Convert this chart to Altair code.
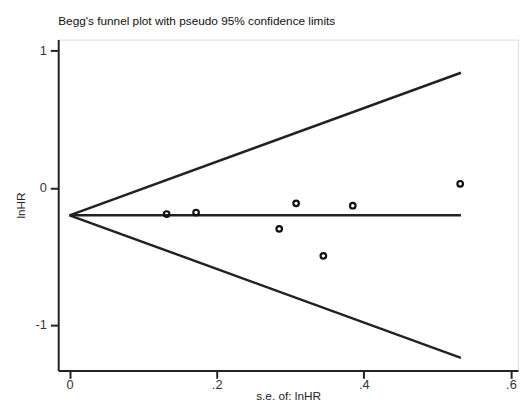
import altair as alt
import pandas as pd

# Study points
se = [0.132, 0.172, 0.285, 0.308, 0.345, 0.385, 0.531]
lnhr = [-0.191, -0.180, -0.299, -0.113, -0.496, -0.130, 0.030]

# Funnel lines (pseudo 95% limits) end points
line_se = [0.0, 0.532]
upper = [-0.2, 0.84]
lower = [-0.2, -1.24]
center = [-0.2, -0.2]

pts = pd.DataFrame({"se": se, "lnhr": lnhr})
lines = pd.DataFrame({
    "se": line_se * 3,
    "lnhr": upper + lower + center,
    "line": ["upper"] * 2 + ["lower"] * 2 + ["center"] * 2,
})

FONT = "Liberation Sans, Arial, sans-serif"

xscale = alt.Scale(domain=[-0.0154, 0.6096], nice=False, zero=False)
yscale = alt.Scale(domain=[-1.332, 1.082], nice=False, zero=False)

xaxis = alt.Axis(values=[0, 0.2, 0.4, 0.6], title="s.e. of: lnHR", grid=False,
                 labelExpr="datum.value == 0 ? '0' : replace(format(datum.value, '.1f'), '0.', '.')",
                 domainColor="#222", domainWidth=2, tickColor="#222", tickWidth=2, tickSize=8,
                 labelFont=FONT, labelFontSize=13, labelColor="#333", labelPadding=0,
                 titleFont=FONT, titleFontSize=12, titleFontWeight="normal", titleColor="#222",
                 titlePadding=0)
yaxis = alt.Axis(values=[-1, 0, 1], title="lnHR", grid=False,
                 labelExpr="datum.value < 0 ? '-' + abs(datum.value) : '' + datum.value",
                 domainColor="#222", domainWidth=2, tickColor="#222", tickWidth=2, tickSize=8,
                 labelFont=FONT, labelFontSize=13, labelColor="#333", labelPadding=4,
                 titleFont=FONT, titleFontSize=12, titleFontWeight="normal", titleColor="#222",
                 titlePadding=8)

line_layer = alt.Chart(lines).mark_line(color="#222", strokeWidth=2.5).encode(
    x=alt.X("se:Q", scale=xscale, axis=xaxis),
    y=alt.Y("lnhr:Q", scale=yscale, axis=yaxis),
    detail="line:N",
)

pt_layer = alt.Chart(pts).mark_point(shape="circle", filled=False, color="#111",
                                      strokeWidth=2.2, size=32, opacity=1).encode(
    x=alt.X("se:Q", scale=xscale),
    y=alt.Y("lnhr:Q", scale=yscale),
)

chart = alt.layer(line_layer, pt_layer).properties(
    width=467, height=336,
    title=alt.TitleParams("Begg's funnel plot with pseudo 95% confidence limits",
                          anchor="start", frame="group", font=FONT, fontSize=12,
                          fontWeight="normal", color="#111", offset=12),
    autosize=alt.AutoSizeParams(type="none"),
    padding={"left": 51, "top": 29, "right": 1, "bottom": 30},
).configure_view(stroke=None).configure(background="white")

chart.save("out.html", embed_options={"renderer": "svg", "actions": False})
